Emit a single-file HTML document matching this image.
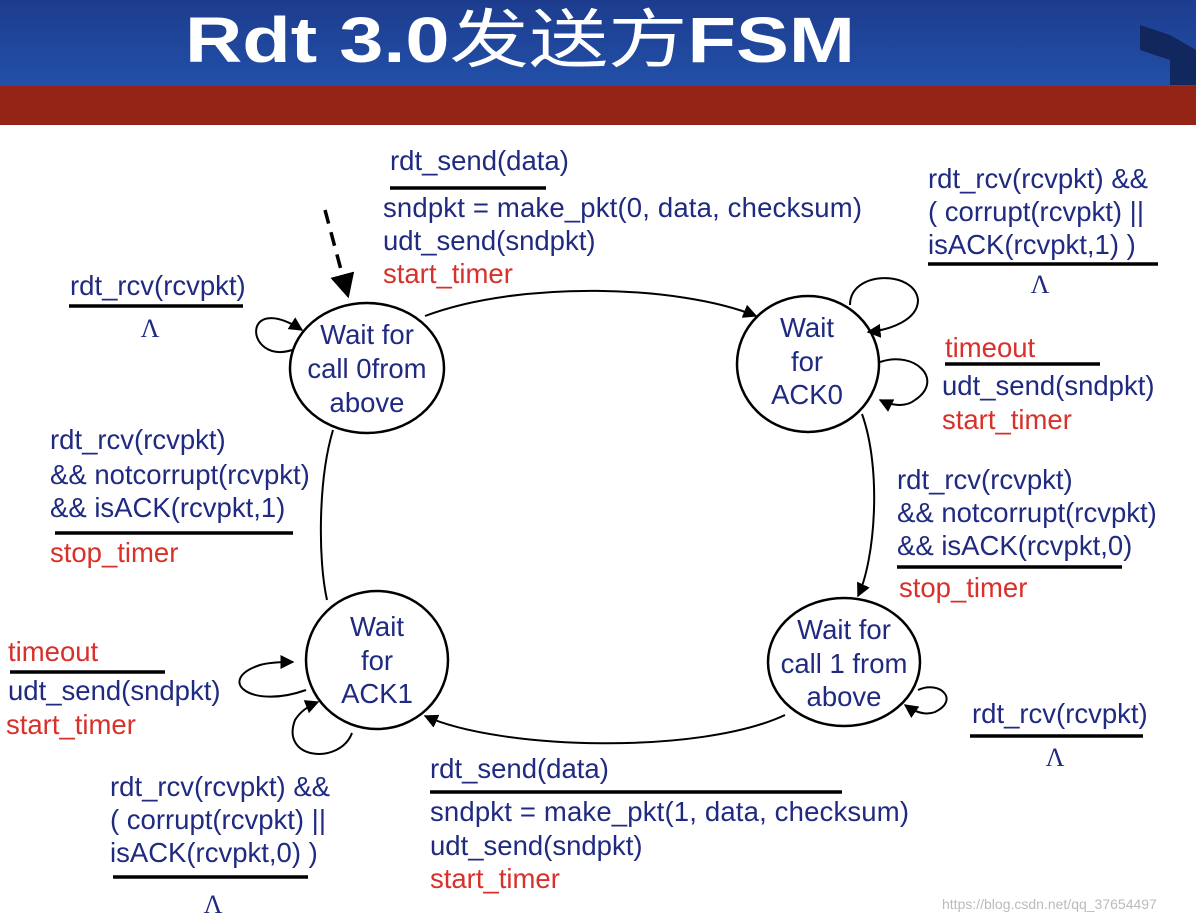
<!DOCTYPE html>
<html><head><meta charset="utf-8"><style>
html,body{margin:0;padding:0;background:#fff;width:1196px;height:922px;overflow:hidden}
svg{display:block}
.t{font-family:"Liberation Sans",Arial,sans-serif;font-size:27.5px;fill:#1f2a80}
.r{fill:#d8302a}
.c{text-anchor:middle}
.L{font-family:"Liberation Serif",serif;font-size:26px;fill:#1f2a80;text-anchor:middle}
</style></head><body>
<svg width="1196" height="922" viewBox="0 0 1196 922" xmlns="http://www.w3.org/2000/svg">
<defs>
<linearGradient id="bg" x1="0" y1="0" x2="0" y2="1"><stop offset="0" stop-color="#1d3c8e"/><stop offset="1" stop-color="#2250a8"/></linearGradient>
<marker id="a" viewBox="0 0 10 10" refX="9" refY="5" markerWidth="7" markerHeight="7" orient="auto"><path d="M0,0 L10,5 L0,10 z" fill="#000"/></marker>
</defs>
<rect x="0" y="0" width="1196" height="86" fill="url(#bg)"/>
<rect x="0" y="86" width="1196" height="39" fill="#932416"/>
<path d="M1140,25 L1170,35 L1196,50 L1196,85 L1170,85 L1170,60 L1140,50 z" fill="#0e1f4e" opacity="0.8"/>
<text x="185" y="62" textLength="670" lengthAdjust="spacingAndGlyphs" font-family="'Liberation Sans','Noto Sans CJK SC',sans-serif" font-weight="bold" font-size="64" fill="#fff">Rdt 3.0<tspan font-weight="normal">发送方</tspan>FSM</text>

<g fill="none" stroke="#000" stroke-width="2.5">
<ellipse cx="367" cy="368" rx="77" ry="65"/>
<ellipse cx="808" cy="364" rx="71" ry="68"/>
<ellipse cx="377" cy="660" rx="71" ry="69"/>
<ellipse cx="844" cy="662" rx="76" ry="64"/>
</g>
<g fill="none" stroke="#000" stroke-width="2">
<path d="M325,210 L348,296" stroke-dasharray="14,9" stroke-width="3.5" marker-end="url(#a)"/>
<path d="M425,316 C520,280 680,285 756,316" marker-end="url(#a)"/>
<path d="M862,414 C882,470 875,560 858,596" marker-end="url(#a)"/>
<path d="M785,715 C700,755 500,750 425,716" marker-end="url(#a)"/>
<path d="M333,430 C318,480 318,560 327,600"/>
<path d="M292,350 C245,365 240,290 302,330" marker-end="url(#a)"/>
<path d="M850,305 C850,270 915,270 918,300 C918,320 890,330 868,332" marker-end="url(#a)"/>
<path d="M880,362 C915,350 945,380 915,400 C905,408 890,405 880,400" marker-end="url(#a)"/>
<path d="M306,690 C250,710 215,680 260,665 C270,662 285,662 293,662" marker-end="url(#a)"/>
<path d="M352,733 C340,765 280,760 295,720 C300,712 308,706 318,702" marker-end="url(#a)"/>
<path d="M918,690 C940,680 960,700 935,712 C925,716 915,712 905,705" marker-end="url(#a)"/>
</g>
<g stroke="#000" stroke-width="3.5">
<line x1="390" y1="188" x2="546" y2="188"/>
<line x1="69" y1="306" x2="243" y2="306"/>
<line x1="928" y1="264" x2="1158" y2="264"/>
<line x1="945" y1="364" x2="1100" y2="364"/>
<line x1="897" y1="567" x2="1122" y2="567"/>
<line x1="55" y1="533" x2="293" y2="533"/>
<line x1="10" y1="672" x2="165" y2="672"/>
<line x1="113" y1="877" x2="308" y2="877"/>
<line x1="430" y1="792" x2="842" y2="792"/>
<line x1="970" y1="736" x2="1143" y2="736"/>
</g>

<text class="t" x="390" y="170">rdt_send(data)</text>
<text class="t" x="383" y="217" textLength="479">sndpkt = make_pkt(0, data, checksum)</text>
<text class="t" x="383" y="250">udt_send(sndpkt)</text>
<text class="t r" x="383" y="283">start_timer</text>

<text class="t" x="70" y="295">rdt_rcv(rcvpkt)</text>
<text class="L" x="150" y="337">Λ</text>

<text class="t" x="928" y="188">rdt_rcv(rcvpkt) &amp;&amp;</text>
<text class="t" x="928" y="221">( corrupt(rcvpkt) ||</text>
<text class="t" x="928" y="254">isACK(rcvpkt,1) )</text>
<text class="L" x="1040" y="293">Λ</text>

<text class="t r" x="945" y="357">timeout</text>
<text class="t" x="942" y="395">udt_send(sndpkt)</text>
<text class="t r" x="942" y="429">start_timer</text>

<text class="t" x="897" y="489">rdt_rcv(rcvpkt)</text>
<text class="t" x="897" y="522">&amp;&amp; notcorrupt(rcvpkt)</text>
<text class="t" x="897" y="555">&amp;&amp; isACK(rcvpkt,0)</text>
<text class="t r" x="899" y="597">stop_timer</text>

<text class="t" x="50" y="449">rdt_rcv(rcvpkt)</text>
<text class="t" x="50" y="484">&amp;&amp; notcorrupt(rcvpkt)</text>
<text class="t" x="50" y="517">&amp;&amp; isACK(rcvpkt,1)</text>
<text class="t r" x="50" y="562">stop_timer</text>

<text class="t r" x="8" y="661">timeout</text>
<text class="t" x="8" y="700">udt_send(sndpkt)</text>
<text class="t r" x="6" y="734">start_timer</text>

<text class="t" x="110" y="796">rdt_rcv(rcvpkt) &amp;&amp;</text>
<text class="t" x="110" y="829">( corrupt(rcvpkt) ||</text>
<text class="t" x="110" y="862">isACK(rcvpkt,0) )</text>
<text class="L" x="213" y="913">Λ</text>

<text class="t" x="430" y="778">rdt_send(data)</text>
<text class="t" x="430" y="821" textLength="479">sndpkt = make_pkt(1, data, checksum)</text>
<text class="t" x="430" y="855">udt_send(sndpkt)</text>
<text class="t r" x="430" y="888">start_timer</text>

<text class="t" x="972" y="723">rdt_rcv(rcvpkt)</text>
<text class="L" x="1055" y="766">Λ</text>

<text class="t c" x="367" y="344">Wait for</text>
<text class="t c" x="367" y="378">call 0from</text>
<text class="t c" x="367" y="412">above</text>
<text class="t c" x="807" y="337">Wait</text>
<text class="t c" x="807" y="371">for</text>
<text class="t c" x="807" y="404">ACK0</text>
<text class="t c" x="377" y="636">Wait</text>
<text class="t c" x="377" y="670">for</text>
<text class="t c" x="377" y="703">ACK1</text>
<text class="t c" x="844" y="639">Wait for</text>
<text class="t c" x="844" y="673">call 1 from</text>
<text class="t c" x="844" y="706">above</text>

<text x="942" y="909" font-family="'Liberation Sans',sans-serif" font-size="14" fill="#bbb">https://blog.csdn.net/qq_37654497</text>
</svg>
</body></html>
